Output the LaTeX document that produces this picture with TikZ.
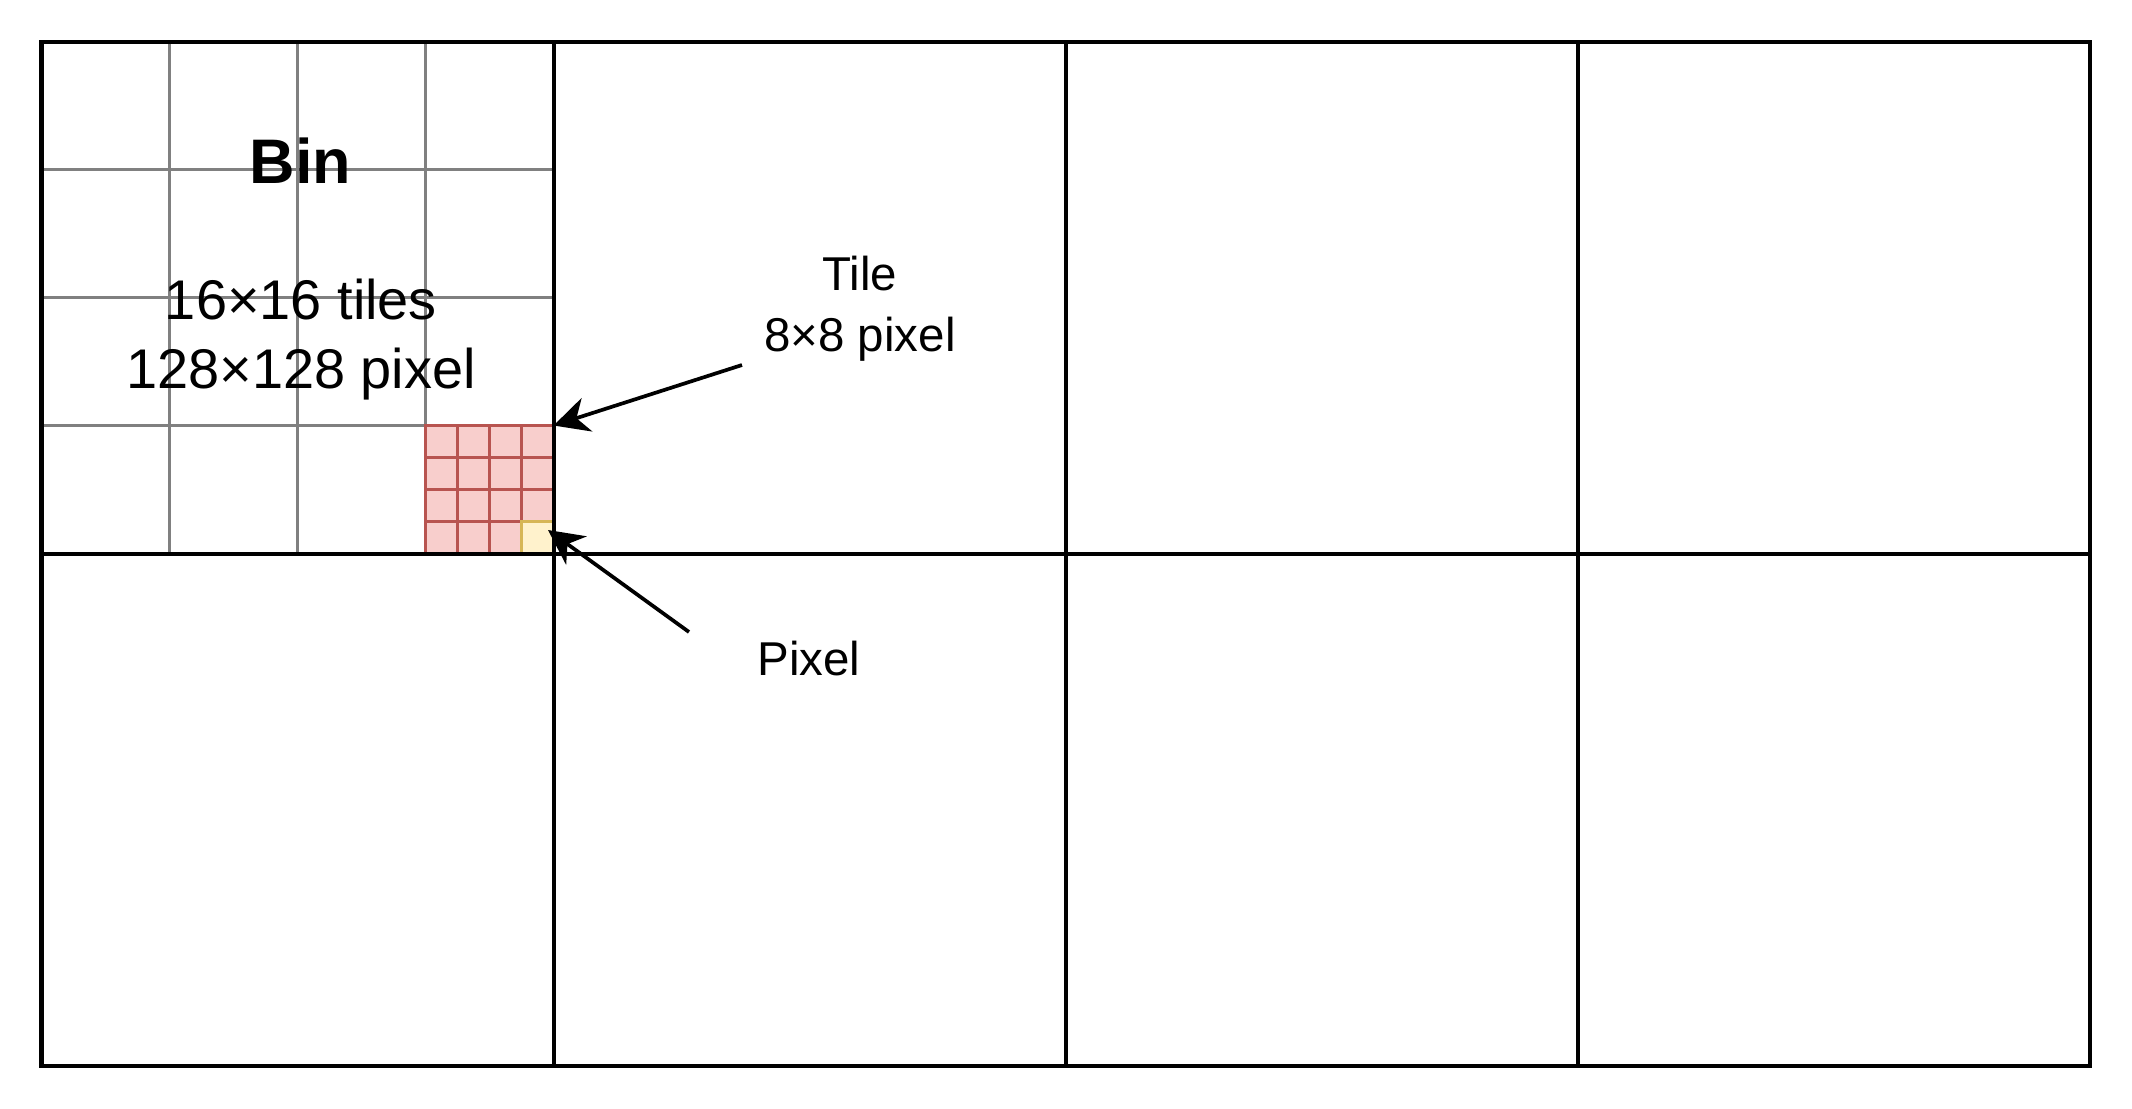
\documentclass[tikz,border=0pt]{standalone}
\usepackage{fontspec}
\setmainfont{Liberation Sans}
\usetikzlibrary{arrows.meta}
\definecolor{gridgray}{HTML}{808080}
\definecolor{tilefill}{HTML}{F8CECC}
\definecolor{tilestroke}{HTML}{B85450}
\definecolor{pixfill}{HTML}{FFF2CC}
\definecolor{pixstroke}{HTML}{D6B656}
\begin{document}
\begin{tikzpicture}[x=0.01cm,y=-0.01cm,
  binline/.style={line width=0.04cm, black},
  tilegrid/.style={line width=0.037cm, gridgray},
  tilebox/.style={draw=tilestroke, fill=tilefill, line width=0.037cm, inner sep=0pt, outer sep=0pt, minimum size=1.28cm, anchor=north west},
  tilesub/.style={line width=0.037cm, tilestroke},
  pixbox/.style={draw=pixstroke, fill=pixfill, line width=0.037cm, inner sep=0pt, outer sep=0pt, minimum size=0.32cm, anchor=north west},
  arr/.style={line width=0.037cm, -{Stealth[length=0.35cm, width=0.35cm, inset=0.11cm]}},
  binlabel/.style={font=\fontsize{17.9}{21}\selectfont\bfseries, inner sep=0pt},
  sizelabel/.style={font=\fontsize{15.9}{19.35}\selectfont, inner sep=0pt, align=center},
  smalllabel/.style={font=\fontsize{13.5}{17.07}\selectfont, inner sep=0pt, align=center}
]
\useasboundingbox (0,0) rectangle (2132,1108);
% tile grid inside the first bin
\foreach \v in {169.5,297.5,425.5} {
  \draw[tilegrid] (\v,41.5) -- (\v,553.5);
  \draw[tilegrid] (41.5,\v) -- (553.5,\v);
}
% highlighted tile
\node[tilebox] (tile) at (425.5,425.5) {};
\foreach \v in {457.5,489.5,521.5} {
  \draw[tilesub] (\v,425.5) -- (\v,553.5);
  \draw[tilesub] (425.5,\v) -- (553.5,\v);
}
\node[pixbox] (pixel) at (521.5,521.5) {};
% bins
\draw[binline] (41.5,41.5) rectangle (2089.5,1065.5);
\foreach \x in {553.5,1065.5,1577.5} {
  \draw[binline] (\x,41.5) -- (\x,1065.5);
}
\draw[binline] (41.5,553.5) -- (2089.5,553.5);
% labels (base anchor = baseline of the last line)
\node[binlabel, anchor=base] (bin) at (300.5,183) {Bin};
\node[sizelabel, anchor=base] (binsize) at (301,388) {16×16 tiles\\128×128 pixel};
\node[smalllabel, anchor=base] (tilelabel) at (860,351) {Tile\\8×8 pixel};
\node[smalllabel, anchor=base] (pixlabel) at (809,675) {Pixel};
% arrows
\coordinate (tilefrom) at (742,365);
\coordinate (pixfrom) at (689,632);
\coordinate (pixtip) at (548,530);
\draw[arr] (tilefrom) -- (tile.north east);
\draw[arr] (pixfrom) -- (pixtip);
\end{tikzpicture}
\end{document}
